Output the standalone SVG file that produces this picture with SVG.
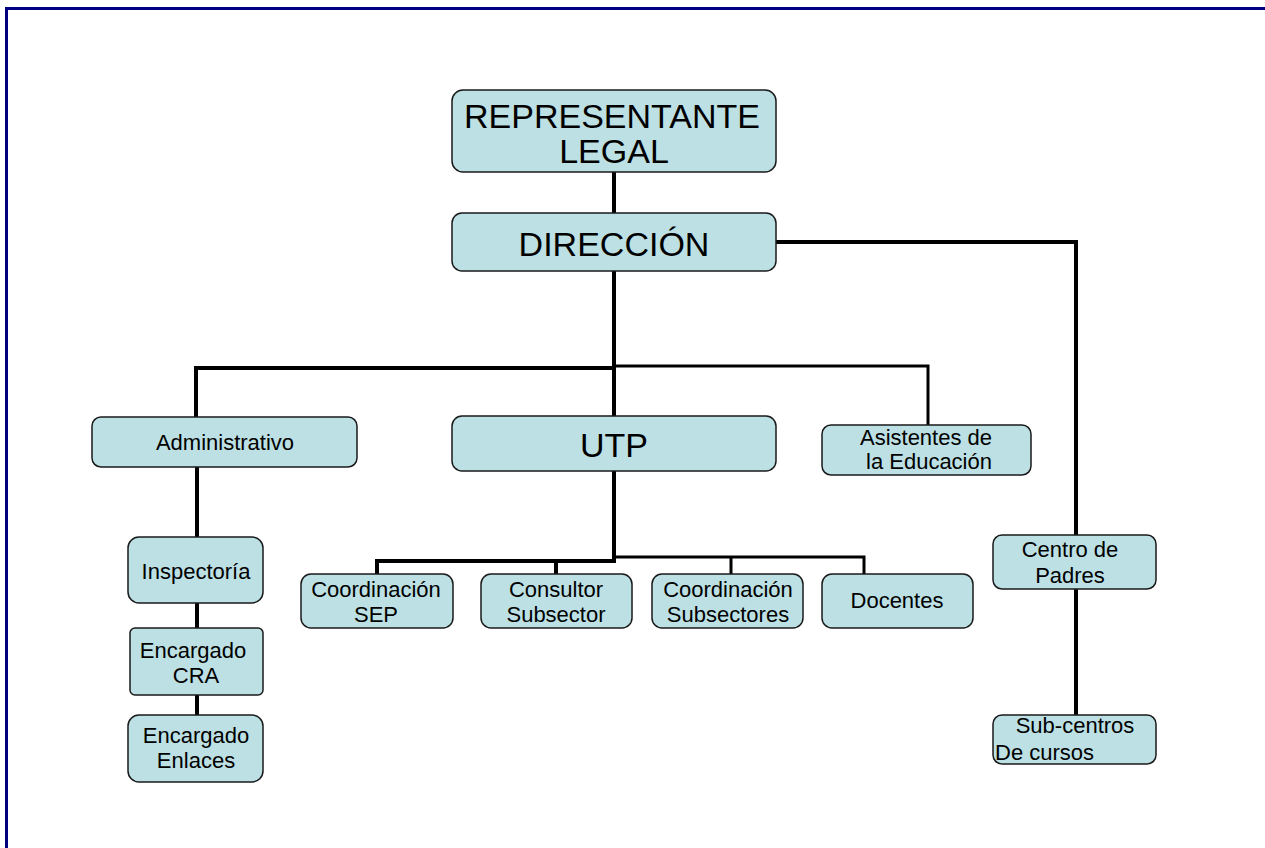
<svg xmlns="http://www.w3.org/2000/svg" width="1265" height="848" viewBox="0 0 1265 848">
  <style>
    .box { fill: #bce0e4; stroke: #1a1a1a; stroke-width: 1.5; }
    .t { font-family: "Liberation Sans", Arial, sans-serif; fill: #000; text-anchor: middle; }
    .big { font-size: 34px; }
    .sm { font-size: 22px; }
    .ln { fill: none; stroke: #000; stroke-width: 4; stroke-linecap: butt; stroke-linejoin: miter; }
    .ln3 { fill: none; stroke: #000; stroke-width: 3; }
    .frame { fill: none; stroke: #000080; stroke-width: 3; }
  </style>

  <rect width="1265" height="848" fill="#fff"/>
  <!-- page frame (top and left edges) -->
  <path class="frame" d="M6.5 848 V8.5 H1265"/>

  <g id="connectors">
    <path class="ln" d="M614 172 V213"/>
    <path class="ln" d="M614 271 V416"/>
    <path class="ln" d="M776 242 H1076 V535"/>
    <path class="ln" d="M196 417 V368 H614"/>
    <path class="ln3" d="M614 366 H928 V425"/>
    <path class="ln" d="M197 467 V537"/>
    <path class="ln" d="M197 603 V628"/>
    <path class="ln" d="M197 695 V715"/>
    <path class="ln" d="M1076 589 V715"/>
    <path class="ln" d="M614 471 V561 H377 V574"/>
    <path class="ln" d="M556 561 V574"/>
    <path class="ln3" d="M614 557 H864 V574"/>
    <path class="ln3" d="M731 557 V574"/>
  </g>

  <g id="representante">
    <rect class="box" x="452" y="90" width="324" height="82" rx="11"/>
    <text class="t big" x="612" y="128">REPRESENTANTE</text>
    <text class="t big" x="614" y="163">LEGAL</text>
  </g>

  <g id="direccion">
    <rect class="box" x="452" y="213" width="324" height="58" rx="10"/>
    <text class="t big" x="614" y="256">DIRECCIÓN</text>
  </g>

  <g id="administrativo">
    <rect class="box" x="92" y="417" width="265" height="50" rx="9"/>
    <text class="t sm" x="225" y="450">Administrativo</text>
  </g>

  <g id="utp">
    <rect class="box" x="452" y="416" width="324" height="55" rx="10"/>
    <text class="t big" x="614" y="457">UTP</text>
  </g>

  <g id="asistentes">
    <rect class="box" x="822" y="425" width="209" height="50" rx="9"/>
    <text class="t sm" x="926" y="445">Asistentes de</text>
    <text class="t sm" x="929" y="469">la Educación</text>
  </g>

  <g id="centro-padres">
    <rect class="box" x="993" y="535" width="163" height="54" rx="9"/>
    <text class="t sm" x="1070" y="557">Centro de</text>
    <text class="t sm" x="1070" y="583">Padres</text>
  </g>

  <g id="sub-centros">
    <rect class="box" x="993" y="715" width="163" height="49" rx="9"/>
    <text class="t sm" x="1075" y="733">Sub-centros</text>
    <text class="t sm" x="995" y="760" style="text-anchor:start">De cursos</text>
  </g>

  <g id="inspectoria">
    <rect class="box" x="128" y="537" width="135" height="66" rx="11"/>
    <text class="t sm" x="196" y="579">Inspectoría</text>
  </g>

  <g id="encargado-cra">
    <rect class="box" x="130" y="628" width="133" height="67" rx="5"/>
    <text class="t sm" x="193" y="658">Encargado</text>
    <text class="t sm" x="196" y="683">CRA</text>
  </g>

  <g id="encargado-enlaces">
    <rect class="box" x="128" y="715" width="135" height="67" rx="11"/>
    <text class="t sm" x="196" y="743">Encargado</text>
    <text class="t sm" x="196" y="768">Enlaces</text>
  </g>

  <g id="coordinacion-sep">
    <rect class="box" x="301" y="574" width="152" height="54" rx="10"/>
    <text class="t sm" x="376" y="597">Coordinación</text>
    <text class="t sm" x="376" y="622">SEP</text>
  </g>

  <g id="consultor-subsector">
    <rect class="box" x="481" y="574" width="151" height="54" rx="10"/>
    <text class="t sm" x="556" y="597">Consultor</text>
    <text class="t sm" x="556" y="622">Subsector</text>
  </g>

  <g id="coordinacion-subsectores">
    <rect class="box" x="652" y="574" width="151" height="54" rx="10"/>
    <text class="t sm" x="728" y="597">Coordinación</text>
    <text class="t sm" x="728" y="622">Subsectores</text>
  </g>

  <g id="docentes">
    <rect class="box" x="822" y="574" width="151" height="54" rx="10"/>
    <text class="t sm" x="897" y="608">Docentes</text>
  </g>
</svg>
